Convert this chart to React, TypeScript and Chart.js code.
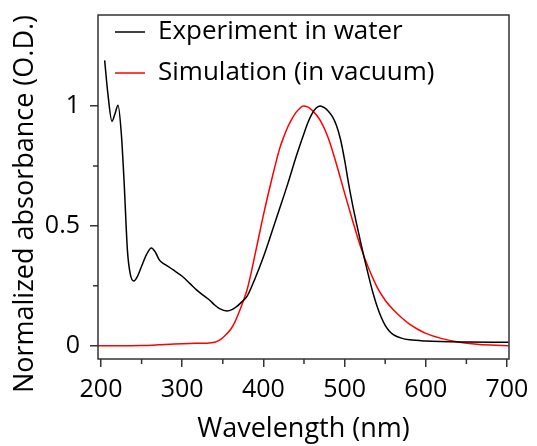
import React, { useEffect, useRef } from 'react';
import { Chart, registerables } from 'chart.js';

Chart.register(...registerables);

const FONT = "'Open Sans', sans-serif";

const seriesLabels = ['Experiment in water', 'Simulation (in vacuum)'];
const seriesColors = ['#000000', '#ff0000'];

const experimentWavelength = [
  204.5, 208.5, 213.5, 217, 221, 225, 228.5, 232.5, 236, 240.5, 245, 250, 256, 262, 267, 272,
  277, 283, 290, 300, 310, 318, 326, 334, 340, 346, 355, 362, 367, 373, 380, 390, 400, 410,
  420, 430, 440, 450, 455, 460, 465, 470, 475, 480, 485, 490, 495, 500, 505, 510, 515, 520,
  525, 530, 535, 540, 545, 550, 555, 560, 570, 580, 600, 650, 702,
];
const experimentAbsorbance = [
  1.19, 1.05, 0.936, 0.965, 1.003, 0.885, 0.68, 0.4, 0.3, 0.27, 0.29, 0.332, 0.38, 0.408, 0.39,
  0.357, 0.343, 0.33, 0.314, 0.29, 0.258, 0.232, 0.21, 0.19, 0.17, 0.155, 0.145, 0.152, 0.163,
  0.182, 0.207, 0.283, 0.37, 0.47, 0.572, 0.675, 0.785, 0.885, 0.932, 0.968, 0.991, 1.0, 0.993,
  0.978, 0.955, 0.918, 0.86, 0.775, 0.675, 0.585, 0.505, 0.428, 0.355, 0.285, 0.22, 0.165,
  0.12, 0.085, 0.062, 0.047, 0.032, 0.025, 0.02, 0.016, 0.015,
];

const simulationWavelength = [
  196, 220, 250, 270, 290, 310, 330, 340, 346, 352, 360, 365, 370, 375, 380, 385, 390, 395,
  400, 410, 420, 425, 430, 435, 440, 445, 449, 455, 460, 470, 480, 490, 500, 510, 520, 530,
  540, 550, 560, 570, 580, 590, 600, 620, 640, 660, 680, 702,
];
const simulationAbsorbance = [
  0, 0, 0.001, 0.004, 0.008, 0.01, 0.011, 0.015, 0.024, 0.04, 0.07, 0.1, 0.14, 0.185, 0.235,
  0.305, 0.385, 0.465, 0.545, 0.69, 0.822, 0.87, 0.912, 0.945, 0.972, 0.99, 1.0, 0.995, 0.982,
  0.94, 0.865, 0.757, 0.637, 0.52, 0.41, 0.32, 0.245, 0.19, 0.15, 0.118, 0.09, 0.069, 0.052,
  0.03, 0.016, 0.008, 0.003, 0,
];

const xTickValues = [200, 300, 400, 500, 600, 700];
const xTickLabels = ['200', '300', '400', '500', '600', '700'];
const xMinorTicks = [250, 350, 450, 550, 650];
const yTickValues = [0, 0.5, 1];
const yTickLabels = ['0', '0.5', '1'];
const yMinorTicks = [0.25, 0.75];

const xTitle = 'Wavelength (nm)';
const yTitle = 'Normalized absorbance (O.D.)';

const AXIS_COLOR = '#333333';

const framePlugin = {
  id: 'framePlugin',
  afterLayout(chart: any) {
    const area = chart.chartArea;
    const lg = chart.legend;
    if (lg) {
      lg.top = area.top - 11;
      lg.left = area.left + 2;
    }
  },
  beforeDraw(chart: any) {
    const ys = chart.scales.y;
    if (ys) ys.bottom = chart.chartArea.bottom + 34;
  },
  afterDraw(chart: any) {
    const { ctx, chartArea: a, scales } = chart;
    ctx.save();
    ctx.strokeStyle = AXIS_COLOR;
    ctx.lineWidth = 1.5;
    ctx.strokeRect(a.left, a.top, a.right - a.left, a.bottom - a.top);
    ctx.beginPath();
    xMinorTicks.forEach((v) => {
      const px = scales.x.getPixelForValue(v);
      ctx.moveTo(px, a.bottom);
      ctx.lineTo(px, a.bottom + 5);
    });
    yMinorTicks.forEach((v) => {
      const py = scales.y.getPixelForValue(v);
      ctx.moveTo(a.left, py);
      ctx.lineTo(a.left - 5, py);
    });
    ctx.stroke();
    ctx.restore();
  },
};

export default function App() {
  const canvasRef = useRef<HTMLCanvasElement | null>(null);

  useEffect(() => {
    const canvas = canvasRef.current;
    if (!canvas) return;
    const chart = new Chart(canvas, {
      type: 'line',
      data: {
        datasets: [
          {
            label: seriesLabels[0],
            data: experimentWavelength.map((x, i) => ({ x, y: experimentAbsorbance[i] })),
            borderColor: seriesColors[0],
            backgroundColor: seriesColors[0],
            borderWidth: 1.5,
            pointRadius: 0,
            cubicInterpolationMode: 'monotone',
            fill: false,
          },
          {
            label: seriesLabels[1],
            data: simulationWavelength.map((x, i) => ({ x, y: simulationAbsorbance[i] })),
            borderColor: seriesColors[1],
            backgroundColor: seriesColors[1],
            borderWidth: 1.5,
            pointRadius: 0,
            cubicInterpolationMode: 'monotone',
            fill: false,
          },
        ],
      },
      options: {
        responsive: false,
        animation: false,
        layout: { padding: { top: 15, right: 28, left: 0, bottom: 0 } },
        plugins: {
          tooltip: { enabled: false },
          legend: {
            position: 'chartArea' as any,
            align: 'start',
            labels: {
              usePointStyle: true,
              pointStyle: 'line',
              pointStyleWidth: 30,
              padding: 15,
              color: '#000',
              font: { family: FONT, size: 26 },
            },
          },
        },
        scales: {
          x: {
            type: 'linear',
            min: 196.3,
            max: 702.5,
            afterBuildTicks: (s: any) => {
              s.ticks = xTickValues.map((v) => ({ value: v }));
            },
            afterFit: (s: any) => {
              s.height = 87;
              s.paddingLeft = 0;
              s.paddingRight = 0;
            },
            border: { display: false },
            grid: {
              drawOnChartArea: false,
              drawTicks: true,
              tickLength: 8,
              color: AXIS_COLOR,
              lineWidth: 1.5,
            },
            ticks: {
              color: '#000',
              padding: 8,
              maxRotation: 0,
              autoSkip: false,
              font: { family: FONT, size: 25 },
              callback: (v: any) => {
                const i = xTickValues.indexOf(Number(v));
                return i >= 0 ? xTickLabels[i] : '';
              },
            },
            title: {
              display: true,
              text: xTitle,
              color: '#000',
              font: { family: FONT, size: 27 },
              padding: { top: 2, bottom: 0 },
            },
          },
          y: {
            type: 'linear',
            min: -0.055,
            max: 1.379,
            afterBuildTicks: (s: any) => {
              s.ticks = yTickValues.map((v) => ({ value: v }));
            },
            afterFit: (s: any) => {
              s.width = 98;
              s.paddingTop = 0;
              s.paddingBottom = 0;
            },
            border: { display: false },
            grid: {
              drawOnChartArea: false,
              drawTicks: true,
              tickLength: 8,
              color: AXIS_COLOR,
              lineWidth: 1.5,
            },
            ticks: {
              color: '#000',
              padding: 10,
              autoSkip: false,
              font: { family: FONT, size: 25 },
              callback: (v: any) => {
                const i = yTickValues.indexOf(Number(v));
                return i >= 0 ? yTickLabels[i] : '';
              },
            },
            title: {
              display: true,
              text: yTitle,
              color: '#000',
              font: { family: FONT, size: 27 },
              padding: { top: 9, bottom: 0 },
            },
          },
        },
      } as any,
      plugins: [framePlugin],
    });
    return () => chart.destroy();
  }, []);

  return (
    <div style={{ position: 'fixed', left: 0, top: 0, width: 537, height: 446, background: '#fff' }}>
      <canvas ref={canvasRef} width={537} height={446} style={{ display: 'block' }} />
    </div>
  );
}
